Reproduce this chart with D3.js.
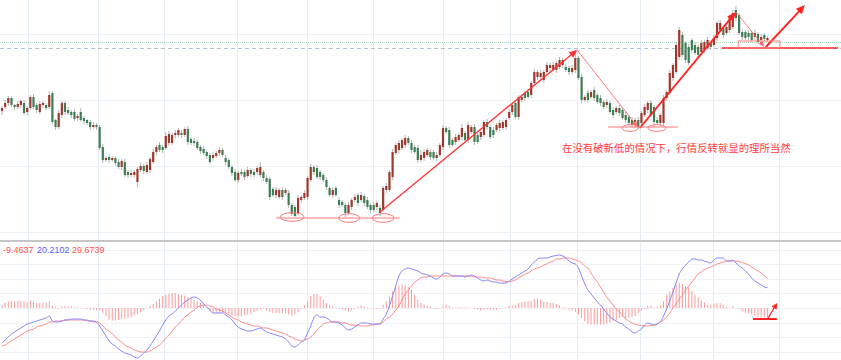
<!DOCTYPE html>
<html><head><meta charset="utf-8">
<script src="https://cdn.jsdelivr.net/npm/d3@7"></script>
<style>body{margin:0;background:#fff}svg{display:block}</style>
</head><body>
<svg id="c" width="841" height="360"></svg>
<script>
// ---------- DATA ----------
const opens = [
1889,1893,1897,1902,1895,1893,1895,1897,1888,1892,
1903,1895,1888,1895,1895,1893,1907,1880,1873,1885,
1897,1890,1888,1888,1882,1888,1882,1880,1878,1873,
1875,1873,1853,1840,1843,1840,1842,1838,1833,1838,
1828,1825,1825,1818,1830,1834,1828,1830,1838,1848,
1855,1853,1852,1857,1857,1865,1865,1867,1865,1871,
1861,1859,1858,1853,1851,1848,1845,1842,1844,1847,
1850,1842,1840,1833,1828,1820,1828,1828,1824,1830,
1828,1828,1825,1828,1822,1821,1811,1805,1803,1810,
1807,1807,1795,1793,1787,1800,1802,1803,1820,1833,
1832,1828,1825,1820,1812,1805,1812,1800,1798,1795,
1787,1793,1800,1805,1800,1804,1800,1795,1795,1793,
1792,1790,1810,1810,1823,1847,1850,1852,1855,1862,
1857,1853,1852,1840,1842,1845,1848,1848,1842,1845,
1853,1872,1870,1860,1858,1860,1863,1867,1860,1868,
1873,1865,1863,1865,1878,1873,1870,1870,1872,1872,
1873,1882,1888,1897,1883,1900,1907,1908,1905,1917,
1923,1923,1920,1928,1932,1930,1930,1933,1935,1933,
1932,1928,1930,1942,1923,1900,1907,1903,1910,1905,
1902,1898,1895,1897,1890,1888,1892,1890,1885,1883,
1880,1875,1880,1877,1885,1890,1897,1893,1880,1877,
1877,1902,1907,1922,1928,1943,1965,1957,1953,1960,
1955,1953,1948,1950,1952,1957,1955,1962,1970,1972,
1967,1970,1973,1990,1985,1968,1968,1967,1967,1963,
1966,1960,1965,1960];
const closes = [
1892,1897,1902,1895,1893,1896,1899,1887,1892,1903,
1893,1890,1896,1897,1892,1905,1878,1873,1887,1897,
1888,1887,1885,1881,1884,1880,1879,1877,1873,1875,
1873,1852,1840,1842,1840,1842,1837,1833,1839,1825,
1825,1827,1828,1831,1834,1829,1835,1841,1848,1853,
1850,1850,1864,1866,1865,1867,1870,1865,1871,1858,
1857,1857,1852,1849,1847,1844,1838,1845,1847,1850,
1845,1838,1833,1827,1820,1827,1826,1823,1830,1826,
1825,1832,1833,1822,1818,1803,1805,1810,1810,1803,
1810,1795,1786,1784,1802,1803,1807,1822,1833,1828,
1823,1823,1820,1813,1805,1810,1805,1795,1795,1787,
1795,1800,1803,1797,1805,1797,1793,1790,1790,1797,
1787,1812,1814,1828,1848,1855,1857,1860,1862,1857,
1850,1848,1840,1845,1848,1850,1843,1842,1845,1855,
1872,1868,1855,1855,1863,1865,1872,1860,1875,1873,
1858,1858,1868,1878,1873,1863,1865,1875,1877,1878,
1880,1888,1895,1883,1903,1903,1902,1903,1917,1928,
1928,1927,1928,1935,1935,1935,1937,1940,1940,1930,
1928,1932,1942,1922,1900,1903,1900,1908,1902,1898,
1897,1893,1898,1888,1885,1892,1887,1882,1880,1877,
1875,1880,1873,1887,1893,1897,1885,1878,1877,1885,
1902,1908,1927,1935,1955,1970,1945,1940,1937,1950,
1947,1945,1957,1958,1960,1953,1962,1977,1977,1965,
1973,1983,1987,1982,1967,1963,1962,1963,1960,1967,
1958,1963,1961,1962];
const upperWick = [
2,3,2,2,1,3,2,3,2,2, 3,2,3,2,2,4,2,1,3,2, 2,3,2,3,2,4,2,1,2,3, 2,2,3,2,3,2,2,3,2,3,
2,3,2,2,3,2,3,2,3,2, 3,2,4,3,2,3,2,3,2,3, 2,3,2,2,3,2,2,3,2,3, 2,3,2,2,3,2,3,2,3,2,
3,2,5,2,3,2,2,3,2,3, 2,3,2,2,3,2,3,2,3,2, 3,2,2,3,2,3,2,3,2,2, 3,2,3,2,3,2,3,2,3,2,
3,2,3,2,3,2,3,2,3,2, 3,2,3,5,3,2,3,2,3,2, 3,2,3,2,3,2,4,2,3,2, 3,2,3,2,3,2,3,2,3,2,
2,3,2,3,2,3,2,3,2,3, 2,3,2,3,2,3,2,3,2,3, 2,3,8,2,3,2,3,2,3,2, 3,2,3,2,3,2,3,2,3,2,
3,2,3,2,3,2,3,2,3,2, 3,2,3,2,3,3,3,2,3,2, 3,2,3,2,3,2,3,2,3,2, 3,2,3,4,2,3,2,3,2,3,
2,3,2,2];
const lowerWick = [
4,2,3,2,3,2,3,2,3,2, 2,3,2,3,2,2,2,3,2,3, 3,2,3,2,3,2,3,2,3,2, 3,2,3,2,3,2,3,2,3,2,
3,2,3,5,2,3,2,3,2,3, 2,3,2,3,2,3,2,3,2,3, 2,3,2,3,2,3,2,3,2,3, 2,3,2,3,2,3,2,3,2,3,
2,3,2,3,2,3,2,3,2,3, 2,3,2,1,2,3,2,3,2,3, 2,3,2,3,2,3,2,3,2,4, 2,3,2,3,2,3,2,3,2,3,
3,2,3,2,3,2,3,2,3,2, 3,2,3,2,3,2,3,2,3,2, 3,2,3,2,3,2,3,2,3,2, 3,2,3,2,3,2,3,2,3,2,
3,2,3,2,3,2,3,2,3,2, 3,2,3,2,3,2,3,2,3,2, 3,2,3,2,3,2,3,2,3,2, 3,2,3,2,3,2,3,2,3,3,
2,3,2,3,2,3,2,5,2,3, 2,3,2,3,2,3,2,3,2,3, 2,3,2,3,2,3,2,3,2,3, 2,3,2,3,2,3,2,3,2,3,
2,3,2,2];
const dif = [
-35,-32,-29,-26,-24,-22,-20,-18,-16,-15, -14,-13,-12,-11,-10,-8,-13,-14,-14,-13,
-12,-12,-11,-11,-11,-11,-12,-12,-13,-13, -14,-18,-23,-28,-33,-36,-38,-41,-43,-45,
-46,-47,-49,-50,-48,-45,-42,-38,-33,-28, -23,-17,-12,-8,-6,-3,0,3,6,8,
10,11,10,8,4,1,-2,-5,-5,-5, -5,-7,-9,-12,-16,-19,-21,-22,-23,-23,
-22,-21,-20,-22,-24,-25,-26,-27,-28,-29, -31,-34,-38,-39,-37,-34,-32,-25,-18,-10,
-7,-9,-9,-10,-12,-14,-14,-15,-17,-20, -22,-21,-19,-17,-15,-15,-15,-16,-16,-16,
-16,-11,-6,2,12,22,32,37,39,40, 39,38,37,35,34,33,32,30,29,31,
34,35,34,32,32,32,32,31,32,33, 32,30,28,27,28,27,26,26,25,25,
25,27,29,31,33,35,37,39,43,46, 49,50,50,50,51,52,52.5,53,52,50,
47,45,44,40,32,24,18,14,10,6, 3,-1,-5,-9,-11,-13,-15,-16,-19,-21,
-24,-25,-23,-21,-17,-15,-16,-17,-16,-14, -8,-1,7,16,25,34,39,43,46,49,
49,48,48,47,46,45,48,50,50,50, 47,47,48,45,42,40,37,34,30,27,
25,23,21,20.2102];
const dea = [
-38,-37,-35,-33,-31,-29,-27,-25,-23,-22, -21,-19,-18,-17,-16,-14,-14,-13,-13,-13,
-12,-12,-12,-12,-12,-12,-12,-13,-13,-14, -14,-15,-18,-21,-23,-26,-29,-32,-34,-37,
-39,-40,-42,-43,-44,-44,-44,-43,-41,-39, -37,-34,-30,-27,-23,-19,-16,-13,-9,-7,
-4,-2,1,2,3,3,2,1,-1,-2, -3,-5,-7,-9,-11,-12,-14,-15,-16,-17,
-18,-18,-19,-20,-20,-21,-22,-23,-24,-25, -26,-28,-29,-31,-32,-33,-32,-31,-29,-26,
-22,-19,-16,-15,-14,-14,-14,-14,-15,-15, -16,-17,-17,-17,-18,-18,-18,-17,-17,-16,
-16,-14,-11,-9,-6,-2,2,8,14,18, 22,26,28,30,31,31,32,32,32,32,
32,32,32,32,32,32,32,32,32,31.5, 31,31,31,30.5,30,30,29,28,28,27,
26.5,26,27,28,30,32,34,35,37,39, 40,41,43,44,46,47,49,49,50,50,
50,49,48,47,45,42,40,35,30,26, 21,16,11,7,3,-1,-4,-7,-11,-13,
-15,-16,-17,-17.5,-18,-18,-17.5,-17,-16,-14, -12,-9,-5,0,4,9,13,18,22,26,
30,34,36,38,40,41,42.5,44,45,46, 47,47,47,47,46.5,45.5,44.5,43,41,39,
37,35,32,29.6739];
const hist = [
2.7,5,6.7,7.3,7.3,7.3,7.3,6.7,5.7,7.7, 6.7,5,5,5,5.3,6.7,2.3,0.7,-0.7,1.7,
1.7,1.7,1.7,0.7,0.3,0.2,-0.3,-0.7,-1.7,-2, -2,-2.7,-5,-8.3,-11.7,-12.7,-12.7,-12,-11,-10.7,
-10.3,-9.3,-7.7,-6,-4,-2,0.2,2,4,6.7, 9.3,11.7,13.3,14.3,15,15,14,13.3,12.3,10.7,
9.7,8,6.7,5,2.7,0.7,-2.7,-4.7,-5,-5, -5,-5.7,-6.3,-7.3,-8.3,-8.3,-8,-7.3,-6.7,-5.7,
-4,-2.7,-1.7,-0.7,-2.7,-4.3,-5,-5.3,-5.3,-5, -5.3,-6.7,-7.7,-6.7,-4,-0.7,2.7,6.7,11.7,14,
14,11.7,8.3,5,3.3,1.7,0.7,-0.7,-1.7,-2.7, -3.3,-2,-0.7,1.3,2.7,1.7,0.7,0.2,-0.7,-0.7,
-0.7,3.3,6.7,11.7,16.7,20.7,22.7,23.3,22.7,20.7, 18.3,13.3,8.3,5,3.3,2.3,1.7,0.2,-1,-0.3,
1.7,3.3,2.3,0.7,0.2,0.7,0.7,0.7,0.7,0.2, -0.7,-1.7,-2.7,-1.7,-1.7,-1.7,-1.7,-1.7,-0.7,0.2,
0.7,2,2.7,3.3,5,6,6.7,6.7,7.3,9.3, 9.3,8.3,6.7,6,5,5,4,2.7,0.7,-0.7,
-1.7,-2.7,-4,-6.7,-10,-13.3,-16,-16.7,-16.7,-16.7, -16.7,-16.7,-15.7,-14.7,-13.3,-11.7,-10,-9.3,-10.7,-10,
-8.7,-7.7,-5.3,-2.7,-0.7,1.7,2.3,0.7,1.3,2.7, 6.7,13.3,16.7,20,23.3,25,24,22,20.7,17.3,
13.3,10.7,8,5.7,3.3,3.3,4.3,5,5,3.3, 1,0.2,1.7,0.2,-1.3,-3.3,-4.7,-5.3,-6.7,-8.3,
-9.3,-9.3,-9.3,-9.4637];
const macdLabels = ["-9.4637", "20.2102", "29.6739"];
const timeTicks = [8.3, 30.5, 51.4, 74.6, 96.8, 117.8, 140, 161.3, 182.5, 202.5, 225.7, 246.7];
const priceGrid = [1966, 1900, 1834, 1768];
const macdGrid = [58.4, 43.8, 29.2, 14.6, 0, -14.6, -29.2, -43.8];
const lastPrice = 1952, bidLine = 1958;
const note = "在没有破新低的情况下，行情反转就显的理所当然";
// annotation anchors in (candle index, price)
const trendLines = [
  {a:[120,1788], b:[182.6,1950], kind:"main"},
  {a:[182.6,1950], b:[201.8,1873], kind:"thin"},
  {a:[202.5,1872], b:[233,1988], kind:"bold"},
  {a:[233,1988], b:[242,1953], kind:"thin"},
  {a:[242.5,1953], b:[254.9,1995], kind:"bold"}
];
const supports = [
  {price:1782, from:87, to:126.2, kind:"thin"},
  {price:1873, from:192.4, to:214.6, kind:"thin"},
  {price:1952, from:228.6, to:265.4, kind:"bold"}
];
const lowMarks = [[92.1,1783,12],[110.2,1782,10.5],[121,1782,11],[199.4,1872,8],[207.9,1872,9]];
// MACD annotation in (candle index, macd value)
const macdMark = {from: 238.4, to: 246, val: -11, arrowFrom: [243.2, -10], arrowTo: [246.1, 5]};

// ---------- DRAW ----------
const svg = d3.select('#c');
const W = 841, H = 360;
const x = d3.scaleLinear().domain([0, 243]).range([2, 767.45]);
const yP = d3.scaleLinear().domain([1760, 2000]).range([240, 0]);
const yM = d3.scaleLinear().domain([-52, 66]).range([360, 242]);

svg.append('rect').attr('width', W).attr('height', H).attr('fill', '#fff');

// grids
svg.append('g').selectAll('line').data(timeTicks).join('line')
  .attr('x1', d => Math.round(x(d)) + 0.5).attr('x2', d => Math.round(x(d)) + 0.5)
  .attr('y1', 0).attr('y2', H).attr('stroke', '#e4ecf3').attr('stroke-width', 1);
svg.append('g').selectAll('line').data(priceGrid).join('line')
  .attr('x1', 0).attr('x2', W)
  .attr('y1', d => Math.round(yP(d)) + 0.5).attr('y2', d => Math.round(yP(d)) + 0.5)
  .attr('stroke', '#eef2f6');
svg.append('g').selectAll('line').data(macdGrid).join('line')
  .attr('x1', 0).attr('x2', W)
  .attr('y1', d => Math.round(yM(d)) + 0.5).attr('y2', d => Math.round(yM(d)) + 0.5)
  .attr('stroke', '#eef2f6');

// price reference lines
svg.append('line').attr('x1', 0).attr('x2', W)
  .attr('y1', Math.round(yP(bidLine)) + 0.5).attr('y2', Math.round(yP(bidLine)) + 0.5)
  .attr('stroke', '#a9d6b8').attr('stroke-dasharray', '1,1');
svg.append('line').attr('x1', 0).attr('x2', W)
  .attr('y1', Math.round(yP(lastPrice)) + 0.5).attr('y2', Math.round(yP(lastPrice)) + 0.5)
  .attr('stroke', '#b2c2d2').attr('stroke-dasharray', '4,3');

// candles
const candles = opens.map((o, i) => ({
  i, o, c: closes[i],
  h: Math.max(o, closes[i]) + upperWick[i],
  l: Math.min(o, closes[i]) - lowerWick[i]
}));
const cg = svg.append('g');
cg.selectAll('line').data(candles).join('line')
  .attr('x1', d => x(d.i)).attr('x2', d => x(d.i))
  .attr('y1', d => yP(d.h)).attr('y2', d => yP(d.l))
  .attr('stroke', '#b4b4b4').attr('stroke-width', 1);
cg.selectAll('rect').data(candles).join('rect')
  .attr('x', d => x(d.i) - 1.1).attr('width', 2.2)
  .attr('y', d => yP(Math.max(d.o, d.c)))
  .attr('height', d => Math.max(1, Math.abs(yP(d.o) - yP(d.c))))
  .attr('fill', d => d.c >= d.o ? '#9d3a2d' : '#3f7d55');

// annotations
const styles = {
  main: {stroke: '#ff3434', w: 1.3, head: [8, 3.5]},
  thin: {stroke: '#ff6a6a', w: 0.9, head: [6, 2.5]},
  bold: {stroke: '#ff2424', w: 1.9, head: [9, 4]}
};
const ag = svg.append('g');
function head(x1, y1, x2, y2, len, half) {
  const dx = x2 - x1, dy = y2 - y1, L = Math.hypot(dx, dy);
  const ux = dx / L, uy = dy / L;
  const bx = x2 - ux * len, by = y2 - uy * len;
  return [[x2, y2], [bx - uy * half, by + ux * half], [bx + uy * half, by - ux * half]];
}
trendLines.forEach(t => {
  const s = styles[t.kind];
  const x1 = x(t.a[0]), y1 = yP(t.a[1]), x2 = x(t.b[0]), y2 = yP(t.b[1]);
  const hp = head(x1, y1, x2, y2, s.head[0], s.head[1]);
  const L = Math.hypot(x2 - x1, y2 - y1);
  const ex = x2 - (x2 - x1) / L * s.head[0] * 0.8, ey = y2 - (y2 - y1) / L * s.head[0] * 0.8;
  ag.append('line').attr('x1', x1).attr('y1', y1).attr('x2', ex).attr('y2', ey)
    .attr('stroke', s.stroke).attr('stroke-width', s.w);
  ag.append('polygon').attr('points', hp.map(p => p.join(',')).join(' ')).attr('fill', s.stroke);
});
supports.forEach(s => {
  ag.append('line').attr('x1', x(s.from)).attr('x2', x(s.to))
    .attr('y1', yP(s.price)).attr('y2', yP(s.price))
    .attr('stroke', s.kind === 'bold' ? '#ff2828' : '#ff7878')
    .attr('stroke-width', s.kind === 'bold' ? 1.6 : 1);
});
ag.selectAll('ellipse').data(lowMarks).join('ellipse')
  .attr('cx', d => x(d[0])).attr('cy', d => yP(d[1]))
  .attr('rx', d => d[2]).attr('ry', d => d[2] > 9.5 ? 4.3 : 3.4)
  .attr('fill', 'none').attr('stroke', '#ff7a7a').attr('stroke-width', 1);
ag.append('rect').attr('x', x(233.7)).attr('y', yP(1959))
  .attr('width', x(247) - x(233.7)).attr('height', yP(1952) - yP(1959))
  .attr('fill', 'none').attr('stroke', '#ff8080').attr('stroke-width', 1);
ag.append('text').attr('x', x(177.8)).attr('y', yP(1848))
  .attr('font-family', '"Noto Sans CJK SC", sans-serif').attr('font-size', 10.4)
  .attr('fill', '#ff3b3b').text(note);

// separator
svg.append('rect').attr('x', 0).attr('y', 240).attr('width', W).attr('height', 2).attr('fill', '#c6c6c6');

// MACD
const mg = svg.append('g');
mg.selectAll('line').data(hist).join('line')
  .attr('x1', (d, i) => x(i)).attr('x2', (d, i) => x(i))
  .attr('y1', yM(0)).attr('y2', d => yM(d))
  .attr('stroke', '#ff9a9a').attr('stroke-width', 1);
const line = d3.line().x((d, i) => x(i)).y(d => yM(d)).curve(d3.curveMonotoneX);
mg.append('path').datum(dea).attr('d', line).attr('fill', 'none')
  .attr('stroke', '#ff8a8a').attr('stroke-width', 1);
mg.append('path').datum(dif).attr('d', line).attr('fill', 'none')
  .attr('stroke', '#8585ff').attr('stroke-width', 1);
mg.append('line').attr('x1', x(macdMark.from)).attr('x2', x(macdMark.to))
  .attr('y1', yM(macdMark.val)).attr('y2', yM(macdMark.val))
  .attr('stroke', '#ff2424').attr('stroke-width', 2);
{
  const x1 = x(macdMark.arrowFrom[0]), y1 = yM(macdMark.arrowFrom[1]);
  const x2 = x(macdMark.arrowTo[0]), y2 = yM(macdMark.arrowTo[1]);
  const hp = head(x1, y1, x2, y2, 6, 3);
  const L = Math.hypot(x2 - x1, y2 - y1);
  mg.append('line').attr('x1', x1).attr('y1', y1)
    .attr('x2', x2 - (x2 - x1) / L * 5).attr('y2', y2 - (y2 - y1) / L * 5)
    .attr('stroke', '#ff2424').attr('stroke-width', 1.3);
  mg.append('polygon').attr('points', hp.map(p => p.join(',')).join(' ')).attr('fill', '#ff2424');
}
const labelColors = ['#ff5252', '#5c5cff', '#ff5252'];
const labelX = [3, 37, 72];
mg.selectAll('text').data(macdLabels).join('text')
  .attr('x', (d, i) => labelX[i]).attr('y', 252.5)
  .attr('font-family', '"Liberation Sans", Arial, sans-serif').attr('font-size', 9)
  .attr('fill', (d, i) => labelColors[i]).text(d => d);
</script>
</body></html>
